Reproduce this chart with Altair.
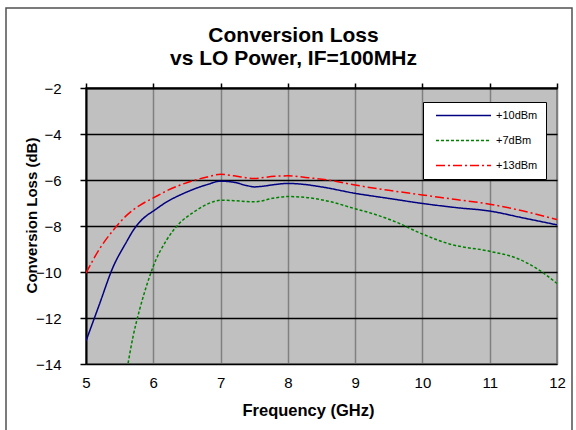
import altair as alt
import pandas as pd

FONT = "Liberation Sans"

# Conversion loss curves (GHz, dB) for three LO drive levels
freq_10 = [5.0, 5.2, 5.4, 5.6, 5.7, 5.8, 5.9, 6.0, 6.2, 6.4, 6.6, 6.8, 7.0, 7.2,
           7.4, 7.5, 7.6, 7.8, 8.0, 8.2, 8.5, 9.0, 9.5, 10.0, 10.5, 11.0, 11.5, 12.0]
loss_10 = [-13.0, -11.4, -9.8, -8.7, -8.2, -7.82, -7.55, -7.35, -6.95, -6.65,
           -6.4, -6.2, -6.05, -6.1, -6.25, -6.3, -6.28, -6.2, -6.15, -6.18, -6.3,
           -6.58, -6.8, -7.02, -7.2, -7.35, -7.65, -7.95]

freq_7 = [5.6, 5.7, 5.8, 5.9, 6.0, 6.2, 6.4, 6.6, 6.8, 7.0, 7.2, 7.5, 7.8, 8.0,
          8.2, 8.6, 9.0, 9.3, 9.6, 10.0, 10.4, 11.0, 11.4, 11.7, 12.0]
loss_7 = [-14.4, -12.8, -11.6, -10.6, -9.75, -8.6, -7.85, -7.4, -7.05, -6.88,
          -6.9, -6.95, -6.78, -6.72, -6.74, -6.92, -7.25, -7.5, -7.82, -8.35,
          -8.78, -9.1, -9.4, -9.85, -10.5]

freq_13 = [5.0, 5.2, 5.4, 5.6, 5.8, 6.0, 6.2, 6.4, 6.6, 6.8, 7.0, 7.2, 7.5, 7.8,
           8.0, 8.3, 8.6, 9.0, 9.5, 10.0, 10.5, 11.0, 11.5, 12.0]
loss_13 = [-10.05, -9.0, -8.2, -7.55, -7.1, -6.78, -6.47, -6.22, -6.02, -5.87,
           -5.75, -5.82, -5.93, -5.84, -5.82, -5.9, -6.0, -6.22, -6.45, -6.65,
           -6.85, -7.05, -7.35, -7.72]

series_names = ["+10dBm", "+7dBm", "+13dBm"]
series_colors = ["#000080", "#008000", "#FF0000"]
series_dashes = [[1, 0], [3, 2], [9, 3, 2, 3]]

x_ticks = [5, 6, 7, 8, 9, 10, 11, 12]
y_ticks = [-14, -12, -10, -8, -6, -4, -2]

rows = []
for name, fs, ls in zip(series_names, [freq_10, freq_7, freq_13],
                        [loss_10, loss_7, loss_13]):
    for f, l in zip(fs, ls):
        rows.append({"series": name, "freq": f, "loss": l})
df = pd.DataFrame(rows)

x_scale = alt.Scale(domain=[5, 12], nice=False, zero=False)
y_scale = alt.Scale(domain=[-14, -2], nice=False, zero=False)

legend = alt.Legend(
    title=None, orient="none", legendX=337, legendY=14,
    fillColor="white", strokeColor="black", padding=8,
    symbolType="M-10,0H10", symbolSize=30.25, symbolStrokeWidth=1.5,
    symbolOffset=27, labelOffset=27, labelFont=FONT, labelFontSize=11,
    labelColor="black", rowPadding=13,
)

lines = alt.Chart(df).mark_line(strokeWidth=1.5, clip=True, interpolate="monotone").encode(
    x=alt.X("freq:Q", scale=x_scale, axis=alt.Axis(
        orient="bottom", values=x_ticks, format="d", title="Frequency (GHz)",
        domain=False, ticks=False, tickSize=0, labelPadding=11, labelFlush=False,
        labelFont=FONT, labelFontSize=15, labelColor="black",
        grid=True, gridColor="#808080", gridWidth=1.5,
        titleFont=FONT, titleFontSize=16.5, titleFontWeight="bold", titleColor="black",
        titleX=222, titleY=51, titleAlign="center", titleBaseline="alphabetic",
    )),
    y=alt.Y("loss:Q", scale=y_scale, axis=alt.Axis(
        orient="left", values=y_ticks, title="Conversion Loss (dB)",
        domain=True, domainColor="black", domainWidth=2,
        ticks=True, tickColor="black", tickSize=6, tickWidth=1.5,
        labelPadding=19, labelFlush=False,
        labelFont=FONT, labelFontSize=15, labelColor="black",
        grid=True, gridColor="black", gridWidth=1.5,
        titleFont=FONT, titleFontSize=15, titleFontWeight="bold", titleColor="black",
        titleX=-55, titleY=127, titleAlign="center", titleBaseline="middle", titleAngle=270,
    )),
    color=alt.Color("series:N", sort=series_names,
                    scale=alt.Scale(domain=series_names, range=series_colors),
                    legend=legend),
    strokeDash=alt.StrokeDash("series:N", sort=series_names,
                              scale=alt.Scale(domain=series_names, range=series_dashes),
                              legend=legend),
)

# Top edge axis: black line with tick marks, no labels
top_axis = alt.Chart(pd.DataFrame({"freq": x_ticks})).mark_point(opacity=0).encode(
    x=alt.X("freq:Q", scale=x_scale, axis=alt.Axis(
        orient="top", values=x_ticks, labels=False, title=None, grid=False,
        domain=True, domainColor="black", domainWidth=2,
        ticks=True, tickColor="black", tickSize=5, tickWidth=1.5,
    )),
)

# Outer chart frame
frame = alt.Chart(pd.DataFrame({"k": [0]})).mark_rect(
    filled=False, stroke="#505050", strokeWidth=1.5
).encode(
    x=alt.value(-80), x2=alt.value(486), y=alt.value(-80), y2=alt.value(360)
)

chart = alt.layer(frame, lines, top_axis).resolve_axis(x="independent").properties(
    width=471, height=276,
    autosize=alt.AutoSizeParams(type="none"),
    padding={"left": 86, "top": 88, "right": 19, "bottom": 66},
    title=alt.TitleParams(
        text=["Conversion Loss", "vs LO Power, IF=100MHz"],
        font=FONT, fontSize=21, fontWeight="bold", color="black",
        anchor="middle", frame="group", dx=-28, offset=-83, lineHeight=23,
        baseline="bottom",
    ),
).configure(background="white").configure_view(
    fill="#C0C0C0", stroke="#808080", strokeWidth=2
)

chart.save("out.html", embed_options={"renderer": "svg", "actions": False})
